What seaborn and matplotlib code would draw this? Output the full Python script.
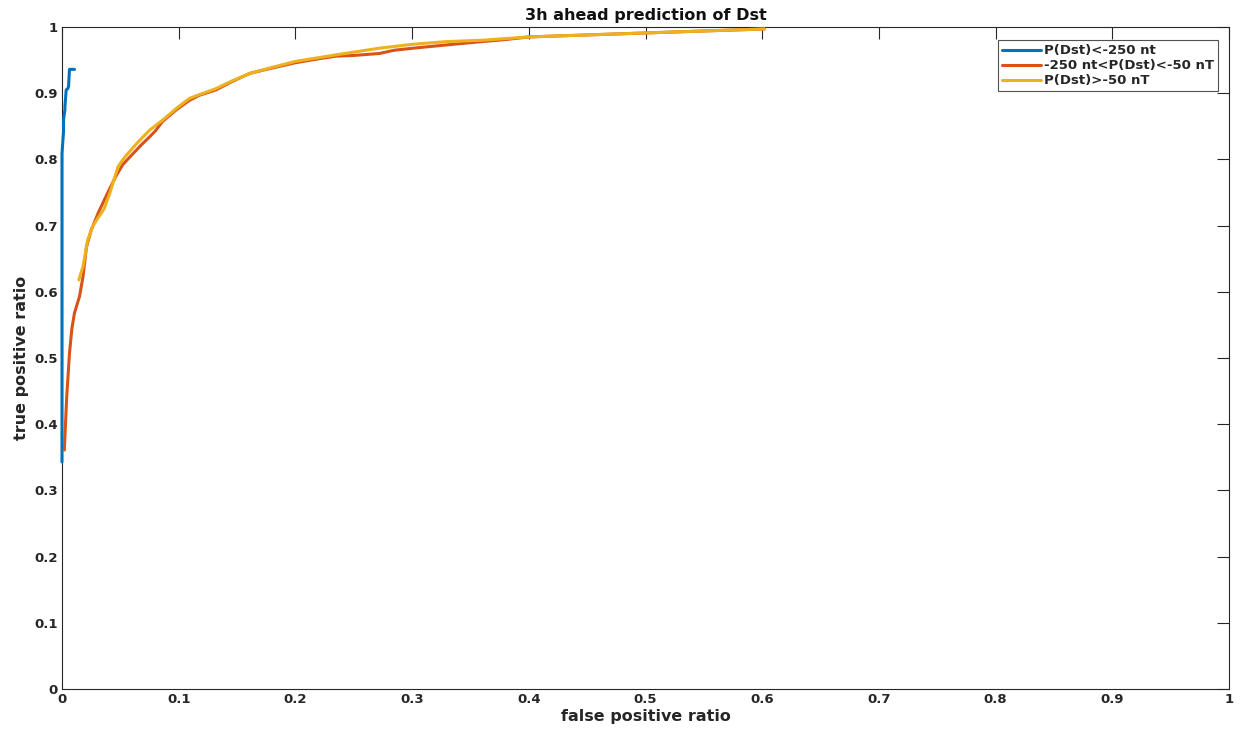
import pandas as pd
import seaborn as sns
import matplotlib
matplotlib.use('Agg')
import matplotlib.pyplot as plt

# ROC curves
blue_fpr = [0, 0, 0.0013, 0.0013, 0.0025, 0.0025, 0.0036, 0.0050, 0.0056, 0.0064, 0.0107]
blue_tpr = [0.343, 0.809, 0.842, 0.860, 0.875, 0.880, 0.905, 0.907, 0.910, 0.936, 0.936]

orange_fpr = [0.002, 0.004, 0.0064, 0.0085, 0.0107, 0.015, 0.018, 0.021, 0.025, 0.031,
              0.039, 0.046, 0.052, 0.061, 0.068, 0.075, 0.080, 0.086, 0.098, 0.109,
              0.118, 0.132, 0.145, 0.161, 0.18, 0.2, 0.22, 0.235, 0.25, 0.272,
              0.285, 0.301, 0.33, 0.36, 0.38, 0.4, 0.45, 0.5, 0.55, 0.602]
orange_tpr = [0.361, 0.44, 0.507, 0.545, 0.568, 0.593, 0.623, 0.668, 0.693, 0.719,
              0.749, 0.774, 0.792, 0.809, 0.822, 0.834, 0.843, 0.857, 0.875, 0.889,
              0.897, 0.905, 0.917, 0.930, 0.938, 0.946, 0.952, 0.956, 0.957, 0.960,
              0.965, 0.968, 0.973, 0.978, 0.981, 0.985, 0.988, 0.991, 0.994, 0.997]

yellow_fpr = [0.0144, 0.018, 0.022, 0.026, 0.031, 0.036, 0.041, 0.048, 0.054, 0.064,
              0.075, 0.086, 0.098, 0.109, 0.118, 0.132, 0.145, 0.161, 0.18, 0.2,
              0.235, 0.272, 0.301, 0.33, 0.36, 0.4, 0.45, 0.5, 0.55, 0.602]
yellow_tpr = [0.618, 0.638, 0.678, 0.698, 0.712, 0.725, 0.749, 0.789, 0.804, 0.824,
              0.844, 0.859, 0.877, 0.892, 0.898, 0.907, 0.918, 0.930, 0.939, 0.948,
              0.958, 0.968, 0.974, 0.978, 0.980, 0.985, 0.988, 0.991, 0.994, 0.997]

labels = ['P(Dst)<-250 nt', '-250 nt<P(Dst)<-50 nT', 'P(Dst)>-50 nT']
colors = ['#0072BD', '#D95319', '#EDB120']

df = pd.concat([
    pd.DataFrame({'fpr': blue_fpr, 'tpr': blue_tpr, 'cls': labels[0]}),
    pd.DataFrame({'fpr': orange_fpr, 'tpr': orange_tpr, 'cls': labels[1]}),
    pd.DataFrame({'fpr': yellow_fpr, 'tpr': yellow_tpr, 'cls': labels[2]}),
])

sns.set_style('white')
plt.rcParams['font.family'] = ['DejaVu Sans']
plt.rcParams['font.weight'] = 'bold'

fig = plt.figure(figsize=(12.48, 7.4), dpi=100)
ax = fig.add_axes([62/1248, 51/740, 1167/1248, 662/740])
sns.lineplot(data=df, x='fpr', y='tpr', hue='cls', palette=colors, sort=False,
             estimator=None, linewidth=2.2, ax=ax)
# draw curves over the box like the original (blue sits on the y axis)
for ln in ax.get_lines():
    ln.set_clip_on(False)
    ln.set_zorder(3)

ax.set_xlim(0, 1)
ax.set_ylim(0, 1)
ax.set_xticks([i/10 for i in range(11)])
ax.set_yticks([i/10 for i in range(11)])
ax.set_xticklabels(['0', '0.1', '0.2', '0.3', '0.4', '0.5', '0.6', '0.7', '0.8', '0.9', '1'])
ax.set_yticklabels(['0', '0.1', '0.2', '0.3', '0.4', '0.5', '0.6', '0.7', '0.8', '0.9', '1'])
ax.tick_params(direction='in', length=8.5, width=0.8, color='#262626',
               top=True, right=True, labelsize=9.5, labelcolor='#262626', pad=3)
for s in ax.spines.values():
    s.set_color('#262626')
    s.set_linewidth(0.8)
    s.set_visible(True)

ax.set_xlabel('false positive ratio', fontsize=11.5, fontweight='bold', color='#262626', labelpad=2)
ax.set_ylabel('true positive ratio', fontsize=11.5, fontweight='bold', color='#262626', labelpad=4)
ax.set_title('3h ahead prediction of Dst', fontsize=11.5, fontweight='bold', color='#111111', pad=5)

leg = ax.legend(loc='upper right', bbox_to_anchor=(0.9906, 0.980), borderaxespad=0,
                fontsize=9.5, frameon=True, fancybox=False, edgecolor='#262626',
                handlelength=3, handletextpad=0.2, labelspacing=0.15, borderpad=0.3)
leg.get_frame().set_linewidth(0.8)
leg.set_zorder(5)
for t in leg.get_texts():
    t.set_fontweight('bold')

fig.savefig('out.png', dpi=100)
